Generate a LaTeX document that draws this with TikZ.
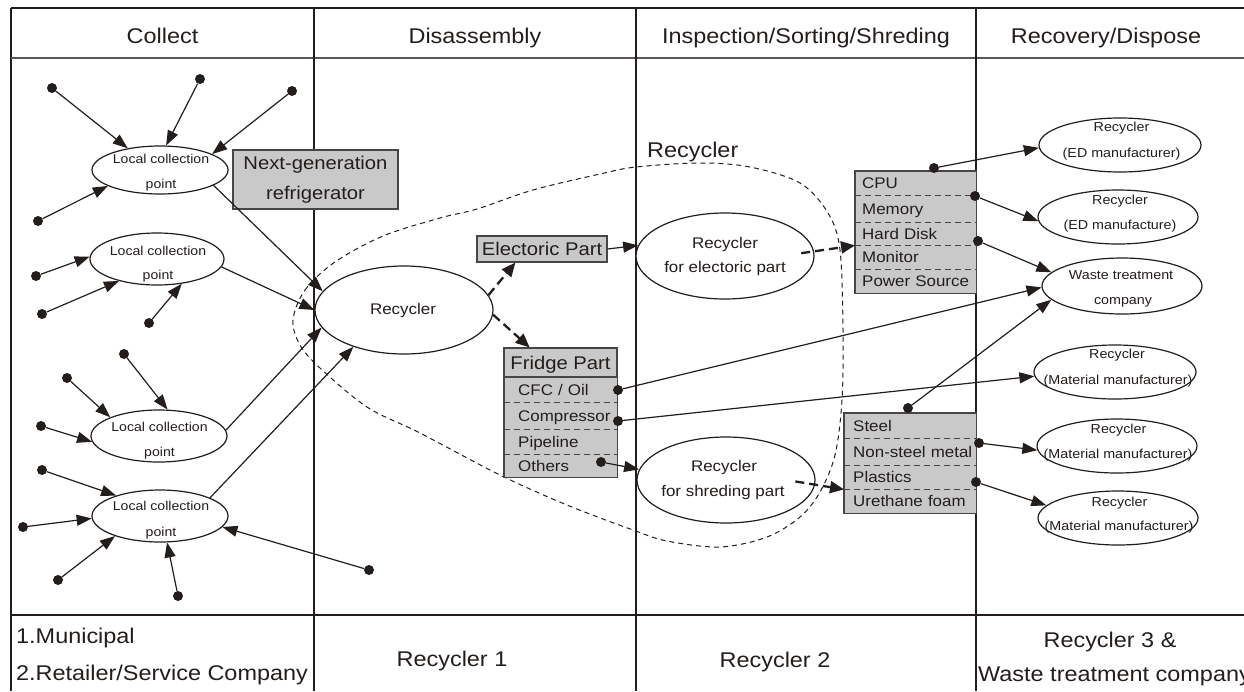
\documentclass[tikz,border=0pt]{standalone}
\usepackage{fontspec}
\setmainfont{Liberation Sans}[FakeStretch=1.1]
\usetikzlibrary{arrows.meta,shapes.geometric}
\definecolor{ink}{RGB}{35,30,28}
\definecolor{boxgray}{RGB}{201,201,201}
\definecolor{boxedge}{RGB}{70,70,70}
\newcommand\FontHead{\fontsize{21.3}{26}\selectfont}
\newcommand\FontBox{\fontsize{18.4}{30}\selectfont}
\newcommand\FontMid{\fontsize{15.4}{24.4}\selectfont}
\newcommand\FontSmall{\fontsize{13}{26}\selectfont}
\newcommand\FontLcp{\fontsize{12.8}{24.7}\selectfont}
\begin{document}
\begin{tikzpicture}[x=1pt,y=-1pt,
  tab/.style={draw=ink,line width=1.3pt},
  tabh/.style={draw=ink!75,line width=1.7pt},
  head/.style={inner sep=0pt,text=ink,font=\FontHead,anchor=base},
  lbl/.style={inner sep=0pt,text=ink,font=\FontSmall,anchor=base},
  lcpt/.style={inner sep=0pt,text=ink,font=\FontLcp,anchor=base},
  midt/.style={inner sep=0pt,text=ink,font=\FontMid,anchor=base},
  ell/.style={ellipse,draw=ink,line width=1.2pt,fill=white,inner sep=0pt},
  gbox/.style={rectangle,draw=boxedge,line width=1.1pt,fill=boxgray,inner sep=0pt,text=ink},
  frow/.style={rectangle,fill=boxgray,inner ysep=0pt,inner xsep=14pt,text width=85pt,align=left,
     anchor=north west,font=\FontMid,text=ink,text height=11pt,text depth=0pt},
  crow/.style={frow,inner xsep=7pt,text width=107pt},
  srow/.style={frow,inner xsep=9pt,text width=114pt},
  boxline/.style={draw=boxedge,line width=1.1pt},
  sep/.style={draw=boxedge,line width=0.9pt,dash pattern=on 6pt off 4pt},
  dot/.style={circle,fill=ink,inner sep=0pt,minimum size=10pt},
  arr/.style={draw=ink,line width=1.2pt,-{Triangle[length=15pt,width=11pt]}},
  darr/.style={draw=ink,line width=2.3pt,dash pattern=on 9pt off 5pt,-{Triangle[length=14pt,width=12pt]}},
  region/.style={draw=ink,line width=1pt,dash pattern=on 5pt off 4pt}
]
\useasboundingbox (0,0) rectangle (1244,691);
\clip (0,0) rectangle (1244,691);
\fill[white] (0,0) rectangle (1244,691);

% table grid
\draw[tab] (11,8) -- (1244,8);
\draw[tab] (11,8) -- (11,691);
\draw[tabh] (11,58) -- (1244,58);
\draw[tab] (11,615) -- (1244,615);
\draw[tab] (314,8) -- (314,691);
\draw[tab] (636,8) -- (636,691);
\draw[tab] (976,8) -- (976,691);

% headers
\node[head] (hcollect) at (162.5,43) {Collect};
\node[head] (hdis) at (475,43) {Disassembly};
\node[head] (hins) at (806,43) {Inspection/Sorting/Shreding};
\node[head] (hrec) at (1106,43) {Recovery/Dispose};

% footer
\node[head,anchor=base west] (fmun) at (16,643) {1.Municipal};
\node[head,anchor=base west] (fret) at (16,680) {2.Retailer/Service Company};
\node[head] (fr1) at (452,666) {Recycler 1};
\node[head] (fr2) at (775,667) {Recycler 2};
\node[head] (fr3) at (1110,647) {Recycler 3 \&};
\node[head,anchor=base west] (fwaste) at (978,681) {Waste treatment company};

% recycler region
\draw[region] plot[smooth cycle,tension=0.55] coordinates {
 (293,320) (305,290) (335,262) (383,236) (440,218) (477,209) (533,190) (600,174)
 (636,167) (700,163) (750,167) (800,183) (828,213) (840,250) (843,330) (842,400)
 (835,455) (820,492) (800,517) (767,537) (720,547) (667,541) (633,530) (567,505)
 (500,475) (420,433) (367,407) (320,368) (300,345)};
\node[head,anchor=base west] (reglabel) at (647,157) {Recycler};

% ellipses
\node[ell,minimum width=136pt,minimum height=48pt] (lcp1) at (160,170) {};
\node[ell,minimum width=134pt,minimum height=52pt] (lcp2) at (157,259) {};
\node[ell,minimum width=136pt,minimum height=52pt] (lcp3) at (159,436) {};
\node[ell,minimum width=136pt,minimum height=52pt] (lcp4) at (160,516) {};
\node[ell,minimum width=178pt,minimum height=88pt] (rec) at (404,310) {};
\node[ell,minimum width=178pt,minimum height=86pt] (recel) at (725,256) {};
\node[ell,minimum width=178pt,minimum height=86pt] (shred) at (726,480) {};
\node[ell,minimum width=162pt,minimum height=54pt] (ed1) at (1120,145) {};
\node[ell,minimum width=160pt,minimum height=54pt] (ed2) at (1118,217) {};
\node[ell,minimum width=160pt,minimum height=56pt] (waste) at (1122,286) {};
\node[ell,minimum width=162pt,minimum height=54pt] (m1) at (1115,372) {};
\node[ell,minimum width=160pt,minimum height=54pt] (m2) at (1117,446) {};
\node[ell,minimum width=160pt,minimum height=54pt] (m3) at (1118,518) {};

% ellipse texts
\node[lcpt] (lcp1a) at (161,163) {Local collection};
\node[lcpt] (lcp1b) at (161,188) {point};
\node[lcpt] (lcp2a) at (158,255) {Local collection};
\node[lcpt] (lcp2b) at (158,279.5) {point};
\node[lcpt] (lcp3a) at (159.5,431.7) {Local collection};
\node[lcpt] (lcp3b) at (159.5,456) {point};
\node[lcpt] (lcp4a) at (161,510.7) {Local collection};
\node[lcpt] (lcp4b) at (161,536) {point};
\node[midt] (reca) at (403,314) {Recycler};
\node[midt] (recela) at (725,248.3) {Recycler};
\node[midt] (recelb) at (725,272.7) {for electoric part};
\node[midt] (shreda) at (724,471.7) {Recycler};
\node[midt] (shredb) at (723,496) {for shreding part};
\node[lbl] (ed1a) at (1121.5,131.5) {Recycler};
\node[lbl] (ed1b) at (1121.5,157) {(ED manufacturer)};
\node[lbl] (ed2a) at (1120,204.3) {Recycler};
\node[lbl] (ed2b) at (1120,229.5) {(ED manufacture)};
\node[lbl] (wastea) at (1121,279.3) {Waste treatment};
\node[lbl] (wasteb) at (1123,304) {company};
\node[lbl] (m1a) at (1117,358.3) {Recycler};
\node[lbl] (m1b) at (1118,384) {(Material manufacturer)};
\node[lbl] (m2a) at (1118.5,433.3) {Recycler};
\node[lbl] (m2b) at (1118,458) {(Material manufacturer)};
\node[lbl] (m3a) at (1119.5,506) {Recycler};
\node[lbl] (m3b) at (1119,530) {(Material manufacturer)};

% gray boxes
\node[gbox,minimum width=165pt,minimum height=59pt,font=\FontBox,align=center] (nextgen) at (315.5,179.5) {Next-generation\\refrigerator};
\node[gbox,minimum width=130pt,minimum height=26pt,font=\FontBox,text height=13pt,text depth=0pt] (elec) at (542,249) {Electoric Part};
\node[gbox,minimum width=113pt,minimum height=29pt,font=\FontBox,text height=13pt,text depth=0pt] (fridgehd) at (560.5,362.5) {Fridge Part};

\node[frow,minimum height=25pt] (cfc) at (504,377) {CFC / Oil};
\node[frow,minimum height=27pt] (comp) at (504,402) {\mbox{Compressor}};
\node[frow,minimum height=25pt] (pipe) at (504,429) {Pipeline};
\node[frow,minimum height=23pt] (oth) at (504,454) {Others};
\draw[boxline] (cfc.north west) rectangle (oth.south east);
\draw[sep] (comp.north west) -- (comp.north east);
\draw[sep] (pipe.north west) -- (pipe.north east);
\draw[sep] (oth.north west) -- (oth.north east);

\node[crow,minimum height=24pt] (cpu) at (855,171) {CPU};
\node[crow,minimum height=27pt] (mem) at (855,195) {Memory};
\node[crow,minimum height=23pt] (hdd) at (855,222) {Hard Disk};
\node[crow,minimum height=24pt] (mon) at (855,245) {Monitor};
\node[crow,minimum height=24pt] (psu) at (855,269) {\mbox{Power Source}};
\draw[boxline] (cpu.north west) rectangle (psu.south east);
\draw[sep] (mem.north west) -- (mem.north east);
\draw[sep] (hdd.north west) -- (hdd.north east);
\draw[sep] (mon.north west) -- (mon.north east);
\draw[sep] (psu.north west) -- (psu.north east);

\node[srow,minimum height=25pt] (steel) at (844,413) {Steel};
\node[srow,minimum height=27pt] (nsm) at (844,438) {\mbox{Non-steel metal}};
\node[srow,minimum height=24pt] (pla) at (844,465) {Plastics};
\node[srow,minimum height=24pt] (ure) at (844,489) {\mbox{Urethane foam}};
\draw[boxline] (steel.north west) rectangle (ure.south east);
\draw[sep] (nsm.north west) -- (nsm.north east);
\draw[sep] (pla.north west) -- (pla.north east);
\draw[sep] (ure.north west) -- (ure.north east);

% source dots
\node[dot] (a1) at (52,88) {};
\node[dot] (a2) at (200,79) {};
\node[dot] (a3) at (292,91) {};
\node[dot] (a4) at (38,221) {};
\node[dot] (b1) at (36,276) {};
\node[dot] (b2) at (42,314) {};
\node[dot] (b3) at (149,323) {};
\node[dot] (c1) at (124,354) {};
\node[dot] (c2) at (67,378) {};
\node[dot] (c3) at (41,426) {};
\node[dot] (e1) at (42,470) {};
\node[dot] (e2) at (23,527) {};
\node[dot] (e3) at (58,580) {};
\node[dot] (e4) at (178,596) {};
\node[dot] (e5) at (369,570) {};
\node[dot] (dcfc) at (618,390) {};
\node[dot] (dcomp) at (618,421) {};
\node[dot] (doth) at (601,462) {};
\node[dot] (dcpu) at (934,168) {};
\node[dot] (dmem) at (975,196) {};
\node[dot] (dhdd) at (978,241) {};
\node[dot] (dsteel) at (908,408) {};
\node[dot] (dnsm) at (979,443) {};
\node[dot] (dpla) at (976,482) {};

% collection arrows
\draw[arr] (a1) -- (lcp1.146);
\draw[arr] (a2) -- (lcp1.76);
\draw[arr] (a3) -- (lcp1.17);
\draw[arr] (a4) -- (lcp1.197);
\draw[arr] (b1) -- (lcp2.178);
\draw[arr] (b2) -- (lcp2.210);
\draw[arr] (b3) -- (lcp2.315);
\draw[arr] (c1) -- (lcp3.72);
\draw[arr] (c2) -- (lcp3.159);
\draw[arr] (c3) -- (lcp3.185);
\draw[arr] (e1) -- (lcp4.155);
\draw[arr] (e2) -- (lcp4.182);
\draw[arr] (e3) -- (lcp4.204);
\draw[arr] (e4) -- (lcp4.285);
\draw[arr] (e5) -- (lcp4.350);

\draw[arr] (lcp1.344) -- (rec.167);
\draw[arr] (lcp2.353) -- (rec.180);
\draw[arr] (lcp3.5) -- (rec.192);
\draw[arr] (lcp4.20) -- (rec.216);

% disassembly
\draw[darr] (rec.10) -- (elec.207);
\draw[darr] (rec.-3) -- (fridgehd.154);
\draw[arr] (elec.east) -- (recel.173);
\draw[arr] (doth) -- (shred.173);
\draw[darr,shorten <=-13pt] (recel.3) -- (hdd.south west);
\draw[darr,shorten <=-20pt] (shred.-3) -- (pla.south west);

% recovery
\draw[arr] (dcfc) -- (waste.181);
\draw[arr] (dcomp) -- (m1.183);
\draw[arr] (dcpu) -- (ed1.182);
\draw[arr] (dmem) -- (ed2.183);
\draw[arr] (dhdd) -- (waste.169);
\draw[arr] (dsteel) -- (waste.191);
\draw[arr] (dnsm) -- (m2.183);
\draw[arr] (dpla) -- (m3.170);
\end{tikzpicture}
\end{document}
